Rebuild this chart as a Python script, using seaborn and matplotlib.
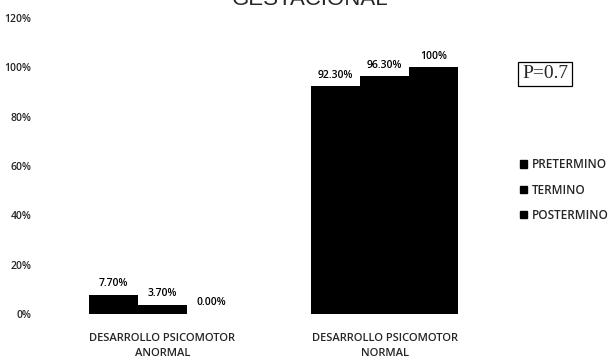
import matplotlib
matplotlib.use("Agg")
import matplotlib.pyplot as plt
import seaborn as sns
import pandas as pd
from matplotlib.patches import Patch

categories = ["DESARROLLO PSICOMOTOR\nANORMAL", "DESARROLLO PSICOMOTOR\nNORMAL"]
groups = ["PRETERMINO", "TERMINO", "POSTERMINO"]
preterm = [7.70, 92.30]
term = [3.70, 96.30]
postterm = [0.00, 100.00]
value_labels = [["7.70%", "92.30%"], ["3.70%", "96.30%"], ["0.00%", "100%"]]
ytick_values = [0, 20, 40, 60, 80, 100, 120]
ytick_labels = ["0%", "20%", "40%", "60%", "80%", "100%", "120%"]

rows = []
for g, vals in zip(groups, [preterm, term, postterm]):
    for c, v in zip(categories, vals):
        rows.append({"cat": c, "grupo": g, "valor": v})
df = pd.DataFrame(rows)

sns.set_style("white")
plt.rcParams["font.family"] = ["Open Sans", "DejaVu Sans"]
plt.rcParams["font.weight"] = "semibold"

fig = plt.figure(figsize=(6.16, 3.62), dpi=100)
ax = fig.add_axes([51 / 616, 1 - 314 / 362, 445 / 616, (314 - 18) / 362])

sns.barplot(data=df, x="cat", y="valor", hue="grupo", hue_order=groups,
            palette=["black"] * 3, width=0.66, saturation=1, ax=ax,
            legend=False, linewidth=0, edgecolor="black")

for container, labels in zip(ax.containers, value_labels):
    ax.bar_label(container, labels=labels, padding=4, fontsize=7.5,
                 color="black", fontweight="semibold")

ax.set_xlim(-0.5, 1.5)
ax.set_ylim(0, 120)
ax.set_yticks(ytick_values)
ax.set_yticklabels(ytick_labels, fontsize=7.5, fontweight="semibold")
ax.tick_params(axis="y", length=0, pad=14)
ax.tick_params(axis="x", length=0, pad=14, labelsize=8)
for lbl in ax.get_xticklabels():
    lbl.set_fontweight("semibold")
    lbl.set_linespacing(1.5)
ax.set_xlabel("")
ax.set_ylabel("")
for s in ax.spines.values():
    s.set_visible(False)

# legend on the right side
handles = [Patch(facecolor="black", edgecolor="black") for _ in groups]
fig.legend(handles, groups, loc="center left",
           bbox_to_anchor=(514 / 616, 1 - 190 / 362), frameon=False,
           prop={"size": 8.5, "weight": "semibold"},
           handlelength=0.6, handleheight=0.6,
           handletextpad=0.4, labelspacing=1.05, borderpad=0)

fig.text(545 / 616, 1 - 74 / 362, "P=0.7", family="Liberation Serif",
         fontsize=14, fontweight="normal", ha="center", va="center",
         bbox=dict(boxstyle="square,pad=0.2", facecolor="white",
                   edgecolor="black", linewidth=0.9))

fig.text(310 / 616, 1 - 5 / 362, "GESTACIONAL", family="Liberation Sans",
         fontsize=16, fontweight="normal", ha="center", va="baseline")

fig.savefig("out.png", dpi=100)
